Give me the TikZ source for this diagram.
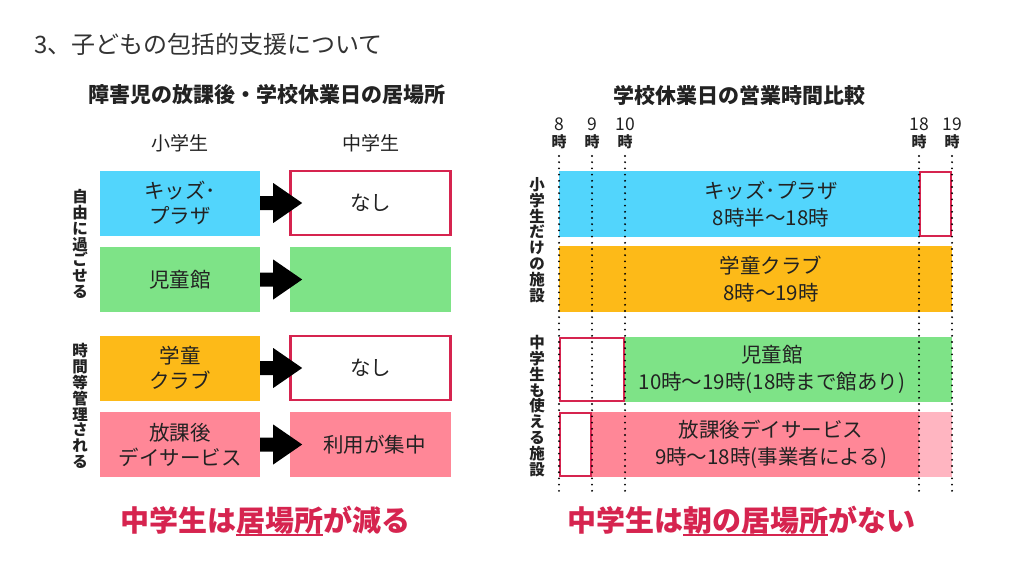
\documentclass[tikz,border=0pt]{standalone}
\usepackage{fontspec}
\setmainfont{Noto Sans CJK JP}
\definecolor{kblue}{HTML}{52D5FC}
\definecolor{kgreen}{HTML}{7EE387}
\definecolor{korange}{HTML}{FDBA18}
\definecolor{kpink}{HTML}{FF8797}
\definecolor{klpink}{HTML}{FFB5C1}
\definecolor{kred}{HTML}{D6244F}
\definecolor{ktext}{HTML}{222222}
\newcommand\kul[1]{\setbox0\hbox{#1}\rlap{\color{kred}\rule[-4.5pt]{\wd0}{1.8pt}}\box0}
\newcommand\hr[1]{{\fontsize{17.5}{16}\selectfont\mdseries #1}\\時}
\begin{document}
\begin{tikzpicture}[x=1pt,y=-1pt,
  every node/.style={inner sep=0pt, text=ktext},
  box/.style={minimum width=160, minimum height=65, align=center, font=\fontsize{20.5}{25}\selectfont},
  redbox/.style={draw=kred, line width=2.5pt, fill=white},
  bar/.style={minimum height=65},
  bartxt/.style={align=center, font=\fontsize{20.5}{27}\selectfont},
  vlabel/.style={align=center, font=\fontsize{15.5}{15.8}\selectfont\bfseries},
  hour/.style={align=center, font=\fontsize{15}{17}\selectfont\bfseries},
  sub/.style={font=\fontsize{21}{24}\selectfont\bfseries},
  head/.style={font=\fontsize{19}{22}\selectfont},
  concl/.style={font=\fontsize{29}{32}\selectfont\bfseries, text=kred},
  dotline/.style={line width=2.1pt, line cap=round, dash pattern=on 0pt off 6.2pt}
]
\useasboundingbox[fill=white] (0,0) rectangle (1024,576);
\newcommand\bigarrow[1]{\fill[black] (#1.east) ++(0,-7) -- ++(13,0) -- ++(0,-13) -- ++(29,20) -- ++(-29,20) -- ++(0,-13) -- ++(-13,0) -- cycle;}

% title
\node[anchor=west, font=\fontsize{24}{27}\selectfont, text=black!80] (title) at (34,44) {3、子どもの包括的支援について};

% ---------- left chart ----------
\node[sub] (subl) at (266.5,95) {障害児の放課後・学校休業日の居場所};
\node[head] (hs) at (180,143) {小学生};
\node[head] (hm) at (370.5,143) {中学生};

\node[box, fill=kblue] (kp) at (180,203) {キッズ･\\プラザ};
\node[box, fill=kgreen] (jd) at (180,279.5) {児童館};
\node[box, fill=korange] (gc) at (180,368) {学童\\クラブ};
\node[box, fill=kpink] (hd) at (180,444.5) {放課後\\デイサービス};

\node[box, redbox, minimum width=160, minimum height=64] (kpm) at (370.5,203) {なし};
\node[box, fill=kgreen, minimum width=161] (jdm) at (370.5,279.5) {};
\node[box, redbox, minimum width=160, minimum height=64] (gcm) at (370.5,368) {なし};
\node[box, fill=kpink, minimum width=161] (hdm) at (370.5,444.5) {\hspace*{8pt}利用が集中};

\bigarrow{kp}
\bigarrow{jd}
\bigarrow{gc}
\bigarrow{hd}

\node[vlabel] (vl1) at (80,244) {自\\由\\に\\過\\ご\\せ\\る};
\node[vlabel] (vl2) at (80,406) {時\\間\\等\\管\\理\\さ\\れ\\る};

\node[concl] (cl) at (265,521) {中学生は\kul{居場所}が減る};

% ---------- right chart ----------
\node[sub] (subr) at (739,95) {学校休業日の営業時間比較};

\node[hour] (h8) at (559,133) {\hr{8}};
\node[hour] (h9) at (592,133) {\hr{9}};
\node[hour] (h10) at (625,133) {\hr{10}};
\node[hour] (h18) at (919,133) {\hr{18}};
\node[hour] (h19) at (952,133) {\hr{19}};

\node[bar, fill=kblue, minimum width=360, minimum height=66] (b1) at (739,204) {};
\node[bar, redbox, minimum width=31, minimum height=64] (r1) at (935.5,204) {};
\node[bartxt] (t1) at (771,204) {キッズ･プラザ\\8時半〜18時};

\node[bar, fill=korange, minimum width=393, minimum height=66] (b2) at (755.5,279) {};
\node[bartxt] (t2) at (771,279) {学童クラブ\\8時〜19時};

\node[bar, fill=kgreen, minimum width=327] (b3) at (788.5,369.5) {};
\node[bar, redbox, minimum width=64, minimum height=63] (r3) at (592,369.5) {};
\node[bartxt] (t3) at (772,369.5) {児童館\\10時〜19時(18時まで館あり)};

\node[bar, fill=kpink, minimum width=327] (b4) at (755.5,444.5) {};
\node[bar, fill=klpink, minimum width=33] (b4l) at (935.5,444.5) {};
\node[bar, redbox, minimum width=31, minimum height=63] (r4) at (575.5,444.5) {};
\node[bartxt] (t4) at (771,444.5) {放課後デイサービス\\9時〜18時(事業者による)};

\foreach \x in {559,592,625,919,952}
  \draw[dotline] (\x,156) -- (\x,491);

\node[vlabel] (vr1) at (537,240) {小\\学\\生\\だ\\け\\の\\施\\設};
\node[vlabel] (vr2) at (537,406) {中\\学\\生\\も\\使\\え\\る\\施\\設};

\node[concl] (cr) at (741,521) {中学生は\kul{朝の居場所}がない};
\end{tikzpicture}
\end{document}
